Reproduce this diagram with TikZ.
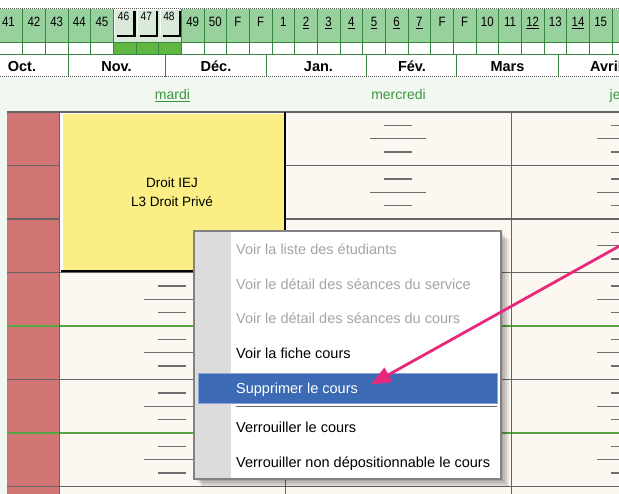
\documentclass[tikz,border=0pt]{standalone}
\usepackage{fontspec}
\setmainfont{Liberation Sans}
\newfontfamily\wkfont[FakeStretch=0.85]{Liberation Sans}
\usetikzlibrary{arrows.meta}
\definecolor{wkgreen}{RGB}{152,208,158}
\definecolor{wkline}{RGB}{55,135,65}
\definecolor{brightgreen}{RGB}{95,182,65}
\definecolor{btnfill}{RGB}{218,234,218}
\definecolor{mint}{RGB}{241,248,241}
\definecolor{daygreen}{RGB}{60,150,60}
\definecolor{cream}{RGB}{253,247,241}
\definecolor{redcol}{RGB}{208,116,116}
\definecolor{gridgray}{RGB}{100,100,100}
\definecolor{hourgreen}{RGB}{85,165,70}
\definecolor{yellowc}{RGB}{250,238,132}
\definecolor{menugray}{RGB}{220,220,220}
\definecolor{menuborder}{RGB}{130,130,130}
\definecolor{disabled}{RGB}{165,165,165}
\definecolor{hiblue}{RGB}{60,106,180}
\definecolor{pinkc}{RGB}{232,40,122}
\definecolor{dashgray}{RGB}{110,110,110}
\tikzset{
  wknum/.style={inner sep=0pt,font=\wkfont\fontsize{13.5}{15}\selectfont,text=black},
  btnnum/.style={inner sep=0pt,font=\wkfont\fontsize{12}{14}\selectfont,text=black},
  month/.style={inner sep=0pt,font=\bfseries\fontsize{14.5}{16}\selectfont,text=black},
  dayname/.style={inner sep=0pt,font=\fontsize{14}{16}\selectfont,text=daygreen},
  coursetxt/.style={inner sep=0pt,font=\fontsize{13.5}{16}\selectfont,text=black},
  menuitem/.style={inner sep=0pt,anchor=base west,font=\fontsize{14.5}{17}\selectfont},
  dotline/.style={gray!70!black,line width=1pt,densely dotted},
  gridline/.style={gridgray,line width=1.1pt},
  hourline/.style={hourgreen,line width=1.8pt},
  dashline/.style={dashgray,line width=1.4pt},
  pinkarrow/.style={pinkc,line width=2.8pt,-{Triangle[length=20pt,width=16pt]}}
}
\begin{document}
\begin{tikzpicture}[x=1pt,y=-1pt]
\useasboundingbox (0,0) rectangle (619,494);
\clip (0,0) rectangle (619,494);
\fill[white] (0,0) rectangle (619,494);
% ---- week strip ----
\fill[wkgreen] (0,9.5) rectangle (619,43);
\fill[white] (0,43) rectangle (619,55);
\fill[brightgreen] (113.33,43) rectangle (181.33,55);
\foreach \k in {1,...,27} \draw[wkline,line width=1pt] ({22.667*\k},9.5) -- ({22.667*\k},55);
\draw[wkline,line width=1pt] (0,43) -- (619,43);
\draw[wkline,line width=1pt] (0,55) -- (619,55);
% raised buttons 46-48
\fill[btnfill] (113.8,9) rectangle (181.0,42.4);
\foreach \k in {5,6,7} {
  \draw[white,line width=1pt] ({22.667*\k+1.5},35) -- ({22.667*\k+1.5},10) -- ({22.667*(\k+1)-2},10);
  \draw[black,line width=2.2pt] ({22.667*\k+4},36) -- ({22.667*(\k+1)-1.5},36) -- ({22.667*(\k+1)-1.5},11);
}
\foreach \i/\lab in {1/42,2/43,3/44,4/45,8/49,9/50,10/F,11/F,12/1,13/{\underline{2}},14/{\underline{3}},15/{\underline{4}},16/{\underline{5}},17/{\underline{6}},18/{\underline{7}},19/F,20/F,21/10,22/11,23/{\underline{12}},24/13,25/{\underline{14}},26/15}
  \node[wknum,anchor=base] (w\i) at ({22.667*\i+11.33},26.7) {\lab};
\node[wknum,anchor=base] (w0) at (8.5,26.7) {41};
\foreach \i/\lab in {5/46,6/47,7/48}
  \node[btnnum,anchor=base] (w\i) at ({22.667*\i+10.3},21) {\lab};
\draw[dotline] (0,9) -- (619,9);
% ---- month row ----
\foreach \x in {68,165,266.7,366.7,456.7,558.3} \draw[wkline,line width=1pt] (\x,55) -- (\x,77);
\node[month,anchor=base] (mo1) at (22,71.7) {Oct.};
\node[month,anchor=base] (mo2) at (116.5,71.7) {Nov.};
\node[month,anchor=base] (mo3) at (216,71.7) {Déc.};
\node[month,anchor=base] (mo4) at (318.5,71.7) {Jan.};
\node[month,anchor=base] (mo5) at (412,71.7) {Fév.};
\node[month,anchor=base] (mo6) at (507.5,71.7) {Mars};
\node[month,anchor=base west] (mo7) at (590,71.7) {Avril};
% ---- day header ----
\fill[mint] (0,77.5) rectangle (619,112);
\draw[dotline] (0,77) -- (619,77);
\node[dayname,anchor=base] (d1) at (172.5,100) {\underline{mardi}};
\node[dayname,anchor=base] (d2) at (398.5,100) {mercredi};
\node[dayname,anchor=base] (d3) at (624.5,100) {jeudi};
% ---- grid ----
\fill[mint] (0,112) rectangle (7,494);
\fill[cream] (7,112) rectangle (619,494);
\fill[redcol] (7,112) rectangle (59.5,494);
\foreach \c in {172,398,625}
  \foreach \r in {112,165.5,219,272.5,326,379.5,433} {
    \draw[dashline] ({\c-14},{\r+13.4}) -- ({\c+14},{\r+13.4});
    \draw[dashline] ({\c-28},{\r+26.75}) -- ({\c+28},{\r+26.75});
    \draw[dashline] ({\c-14},{\r+40.1}) -- ({\c+14},{\r+40.1});
  }
\foreach \y in {112,165.5,219,272.5,379.5,486.5} \draw[gridline] (7,\y) -- (619,\y);
\foreach \y in {326,433} \draw[hourline] (7,\y) -- (619,\y);
\foreach \x in {59.5,285.5,511.5} \draw[gridline] (\x,112) -- (\x,494);
% ---- course block ----
\fill[white] (60.2,112.6) rectangle (285,271.5);
\fill[yellowc] (62.5,114.5) rectangle (284,270.5);
\draw[black,line width=2.2pt] (60.5,271.3) -- (285,271.3) -- (285,112.5);
\node[coursetxt,anchor=base] (crs1) at (172,187.3) {Droit IEJ};
\node[coursetxt,anchor=base] (crs2) at (172,206.7) {L3 Droit Privé};
% ---- context menu ----
\foreach \k in {2,4,6,8}
  \fill[black,opacity=0.09] ({194+\k},{231+\k}) rectangle ({501+\k},{479+\k});
\fill[white] (194,231) rectangle (501,479);
\fill[menugray] (194.5,231.5) rectangle (231,478.5);
\draw[menuborder,line width=1.2pt] (194,231) rectangle (501,479);
\fill[hiblue] (198.3,373.5) rectangle (497,403);
\draw[hiblue!60!white,line width=0.6pt] (198.3,373.5) rectangle (497,403);
\draw[gray!80!black,line width=1pt] (236,406.3) -- (497,406.3);
\draw[white,line width=1pt] (236,407.4) -- (497,407.4);
\node[menuitem,text=disabled] (m1) at (236,255) {Voir la liste des étudiants};
\node[menuitem,text=disabled] (m2) at (236,289.5) {Voir le détail des séances du service};
\node[menuitem,text=disabled] (m3) at (236,324) {Voir le détail des séances du cours};
\node[menuitem,text=black] (m4) at (236,359) {Voir la fiche cours};
\node[menuitem,text=white] (m5) at (236,394) {Supprimer le cours};
\node[menuitem,text=black] (m6) at (236,432.7) {Verrouiller le cours};
\node[menuitem,text=black] (m7) at (236,467.3) {Verrouiller non dépositionnable le cours};
% ---- arrow ----
\coordinate (arrS) at (632,239);
\coordinate (arrT) at (371,384.5);
\draw[pinkarrow] (arrS) -- (arrT);
\end{tikzpicture}
\end{document}
